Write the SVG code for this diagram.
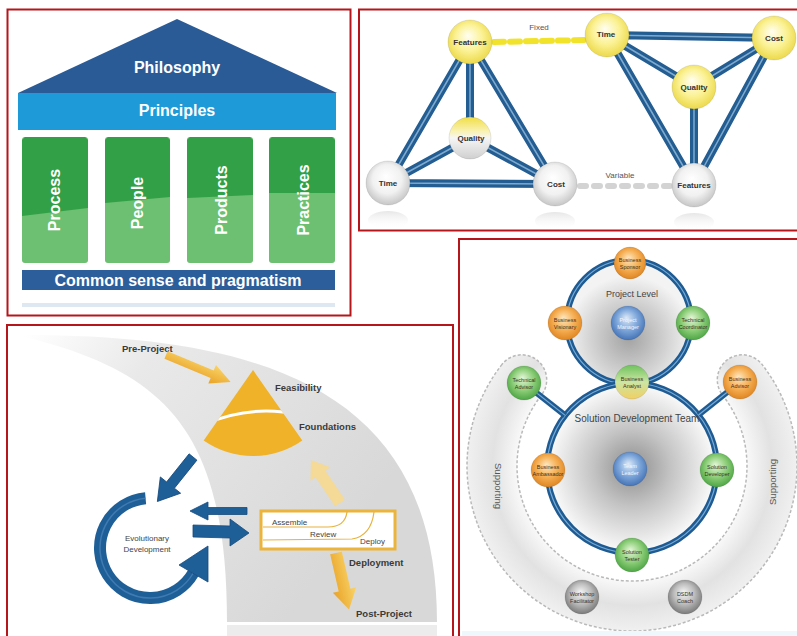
<svg xmlns="http://www.w3.org/2000/svg" width="797" height="636" viewBox="0 0 797 636">
<defs>
<style>
text{font-family:"Liberation Sans",Arial,Helvetica,sans-serif}
.frame{fill:#fff;stroke:#b5161c;stroke-width:2}
.big{fill:#fff;font-size:16px;font-weight:bold;text-anchor:middle}
.nl{font-size:8px;font-weight:bold;fill:#333;text-anchor:middle}
.cap{font-size:8px;fill:#555;text-anchor:middle}
.lk{fill:none;stroke:#235d91;stroke-width:8}
.lk2{fill:none;stroke:#7eaad0;stroke-width:1.5}
.lab{font-size:9.5px;font-weight:bold;fill:#3a3a3a}
.sm{font-size:8px;fill:#444}
.ring{fill:none;stroke:#1f5b93;stroke-width:6}
.ring2{fill:none;stroke:#78acd6;stroke-width:1.2}
.pl{font-size:5.5px;fill:#3b2f1e;text-anchor:middle}
.plw{font-size:5.5px;fill:#f2f6ff;text-anchor:middle}
.dash{fill:none;stroke:#b9b9b9;stroke-width:1.5;stroke-dasharray:3 2}
.ball{stroke:#000;stroke-opacity:0.12;stroke-width:0.8}
.barrow{fill:#1f5f98;stroke:#154a7c;stroke-width:0.8}
.garrow{fill:url(#gGold)}
</style>
<radialGradient id="gY" cx="0.5" cy="0.45" r="0.55" fx="0.45" fy="0.35">
<stop offset="0" stop-color="#fffef2"/><stop offset="0.55" stop-color="#fbf296"/><stop offset="1" stop-color="#ecd94a"/>
</radialGradient>
<radialGradient id="gW" cx="0.5" cy="0.45" r="0.55" fx="0.45" fy="0.35">
<stop offset="0" stop-color="#ffffff"/><stop offset="0.6" stop-color="#f1f1f1"/><stop offset="1" stop-color="#c6c6c6"/>
</radialGradient>
<linearGradient id="gQ" x1="0" y1="0" x2="0" y2="1">
<stop offset="0" stop-color="#f0de45"/><stop offset="0.35" stop-color="#f9f3b6"/><stop offset="0.5" stop-color="#f6f6f6"/><stop offset="1" stop-color="#cfcfcf"/>
</linearGradient>
<linearGradient id="gRef" x1="0" y1="0" x2="0" y2="1">
<stop offset="0" stop-color="#d4d4d4" stop-opacity="0.7"/><stop offset="1" stop-color="#ffffff" stop-opacity="0"/>
</linearGradient>
<radialGradient id="gO" cx="0.5" cy="0.45" r="0.55" fx="0.45" fy="0.35">
<stop offset="0" stop-color="#fde7c0"/><stop offset="0.55" stop-color="#f6b055"/><stop offset="1" stop-color="#e08622"/>
</radialGradient>
<radialGradient id="gG" cx="0.5" cy="0.45" r="0.55" fx="0.45" fy="0.35">
<stop offset="0" stop-color="#e4f6d8"/><stop offset="0.55" stop-color="#90d07c"/><stop offset="1" stop-color="#4ea645"/>
</radialGradient>
<radialGradient id="gB" cx="0.5" cy="0.45" r="0.55" fx="0.45" fy="0.35">
<stop offset="0" stop-color="#dde9f7"/><stop offset="0.55" stop-color="#7fa8db"/><stop offset="1" stop-color="#4674b6"/>
</radialGradient>
<radialGradient id="gD" cx="0.5" cy="0.45" r="0.55" fx="0.45" fy="0.35">
<stop offset="0" stop-color="#f4f4f4"/><stop offset="0.55" stop-color="#bdbdbd"/><stop offset="1" stop-color="#7a7a7a"/>
</radialGradient>
<linearGradient id="gA" x1="0" y1="0" x2="0" y2="1">
<stop offset="0" stop-color="#6fc25e"/><stop offset="0.5" stop-color="#cbe6a4"/><stop offset="1" stop-color="#f2cf62"/>
</linearGradient>
<radialGradient id="gBand" gradientUnits="userSpaceOnUse" cx="632" cy="466" r="170">
<stop offset="0.66" stop-color="#fbfbfb"/><stop offset="0.82" stop-color="#e2e2e2"/><stop offset="1" stop-color="#f3f3f3"/>
</radialGradient>
<radialGradient id="gSDT" gradientUnits="userSpaceOnUse" cx="632" cy="468" r="85">
<stop offset="0" stop-color="#8c8c8c"/><stop offset="0.45" stop-color="#c3c3c3"/><stop offset="1" stop-color="#fbfbfb"/>
</radialGradient>
<radialGradient id="gPL" gradientUnits="userSpaceOnUse" cx="629" cy="338" r="62">
<stop offset="0" stop-color="#a3a3a3"/><stop offset="0.6" stop-color="#d2d2d2"/><stop offset="1" stop-color="#f3f3f3"/>
</radialGradient>
<linearGradient id="gArc" gradientUnits="userSpaceOnUse" x1="25" y1="335" x2="330" y2="560">
<stop offset="0" stop-color="#ffffff"/><stop offset="0.3" stop-color="#e9e9e9"/><stop offset="1" stop-color="#d8d8d8"/>
</linearGradient>
<linearGradient id="gGold" x1="0" y1="0" x2="0" y2="1">
<stop offset="0" stop-color="#f9d468"/><stop offset="1" stop-color="#e9a226"/>
</linearGradient>
<clipPath id="sectorClip"><path d="M253,370 L203.7,440.4 A86,86 0 0 0 302.3,440.4 Z"/></clipPath>
<path id="triL" d="M470,42 L388,183 M470,42 L470,138 M470,42 L555,184 M470,138 L388,183 M470,138 L555,184 M388,183 L555,184"/>
<path id="triR" d="M607,35 L774,38 M607,35 L694,87 M607,35 L694,185 M774,38 L694,87 M774,38 L694,185 M694,87 L694,185"/>
</defs>

<!-- ============ Panel 1: house ============ -->
<rect class="frame" x="7.5" y="9.5" width="343" height="306"/>
<g id="roof">
<polygon points="177,19 18,93 337,93" fill="#2a5b96"/>
<text class="big" x="177" y="73">Philosophy</text>
</g>
<g id="principles">
<rect x="18" y="93" width="318" height="37" fill="#1d9ad7"/>
<text class="big" x="177" y="116">Principles</text>
</g>
<g id="pillar-process">
<rect x="22" y="137" width="66" height="126" rx="3" fill="#6dbf72"/>
<polygon points="22,140 25,137 85,137 88,140 88,208 22,216" fill="#32a046"/>
<text class="big" transform="translate(60,200) rotate(-90)">Process</text>
</g>
<g id="pillar-people">
<rect x="105" y="137" width="65" height="126" rx="3" fill="#6dbf72"/>
<polygon points="105,140 108,137 167,137 170,140 170,197 105,203" fill="#32a046"/>
<text class="big" transform="translate(143,203) rotate(-90)">People</text>
</g>
<g id="pillar-products">
<rect x="187" y="137" width="66" height="126" rx="3" fill="#6dbf72"/>
<polygon points="187,140 190,137 250,137 253,140 253,195 187,198" fill="#32a046"/>
<text class="big" transform="translate(227,200) rotate(-90)">Products</text>
</g>
<g id="pillar-practices">
<rect x="269" y="137" width="66" height="126" rx="3" fill="#6dbf72"/>
<polygon points="269,140 272,137 332,137 335,140 335,193 269,193" fill="#32a046"/>
<text class="big" transform="translate(309,200) rotate(-90)">Practices</text>
</g>
<g id="foundation">
<rect x="22" y="270" width="313" height="20" fill="#2b5e9b"/>
<text class="big" x="178" y="286">Common sense and pragmatism</text>
<rect x="22" y="303" width="313" height="4" fill="#dde8f3"/>
</g>

<!-- ============ Panel 2: triangles ============ -->
<rect class="frame" x="359" y="9.5" width="445" height="221"/>
<g id="connectors-triangles">
<use href="#triL" class="lk"/><use href="#triL" class="lk2"/>
<use href="#triR" class="lk"/><use href="#triR" class="lk2"/>
<line x1="494" y1="42" x2="586" y2="40" stroke="#f1e22c" stroke-width="6" stroke-dasharray="10 6" stroke-linecap="round"/>
<line x1="580" y1="186" x2="670" y2="186" stroke="#d3d3d3" stroke-width="6" stroke-dasharray="6 8" stroke-linecap="round"/>
<text class="cap" x="539" y="30">Fixed</text>
<text class="cap" x="620" y="178">Variable</text>
</g>
<g id="reflections" opacity="0.8">
<ellipse cx="388" cy="220" rx="20" ry="9" fill="url(#gRef)"/>
<ellipse cx="555" cy="221" rx="20" ry="9" fill="url(#gRef)"/>
<ellipse cx="694" cy="222" rx="20" ry="9" fill="url(#gRef)"/>
</g>
<g id="n-features-fixed"><circle class="ball" cx="470" cy="42" r="22" fill="url(#gY)"/><text class="nl" x="470" y="45">Features</text></g>
<g id="n-quality-left"><circle class="ball" cx="470" cy="138" r="21" fill="url(#gQ)"/><text class="nl" x="471" y="141">Quality</text></g>
<g id="n-time-left"><circle class="ball" cx="388" cy="183" r="22" fill="url(#gW)"/><text class="nl" x="388" y="186">Time</text></g>
<g id="n-cost-left"><circle class="ball" cx="555" cy="184" r="22" fill="url(#gW)"/><text class="nl" x="556" y="187">Cost</text></g>
<g id="n-time-fixed"><circle class="ball" cx="607" cy="35" r="22" fill="url(#gY)"/><text class="nl" x="606" y="37">Time</text></g>
<g id="n-cost-fixed"><circle class="ball" cx="774" cy="38" r="22" fill="url(#gY)"/><text class="nl" x="774" y="41">Cost</text></g>
<g id="n-quality-right"><circle class="ball" cx="694" cy="87" r="22" fill="url(#gY)"/><text class="nl" x="694" y="90">Quality</text></g>
<g id="n-features-var"><circle class="ball" cx="694" cy="185" r="22" fill="url(#gW)"/><text class="nl" x="694" y="188">Features</text></g>

<!-- ============ Panel 3: lifecycle ============ -->
<rect class="frame" x="7" y="325" width="446" height="320"/>
<path id="lifecycle-band" d="M25,335 C280,335 437,400 437,622 L227,622 C227,430 165,372 25,337 Z" fill="url(#gArc)"/>
<rect x="227" y="625" width="210" height="12" fill="#ececec"/>
<g id="n-preproject">
<text class="lab" x="122" y="352">Pre-Project</text>
</g>
<g id="n-feasibility">
<path d="M253,370 L203.7,440.4 A86,86 0 0 0 302.3,440.4 Z" fill="#efb229"/>
<path clip-path="url(#sectorClip)" d="M205,424 Q252,404 300,415" fill="none" stroke="#fff" stroke-width="3"/>
<text class="lab" x="275" y="391">Feasibility</text>
<text class="lab" x="299" y="430">Foundations</text>
</g>
<g id="n-evolutionary">
<path d="M145.6,498.2 A50,50 0 1 0 193.3,573" fill="none" stroke="#1f5f98" stroke-width="12"/>
<path d="M145.6,498.2 A50,50 0 1 0 193.3,573" fill="none" stroke="#4d86be" stroke-width="1.5" opacity="0.7"/>
<polygon class="barrow" points="208,582 179,565 208,546"/>
<text class="sm" x="147" y="541" text-anchor="middle">Evolutionary</text>
<text class="sm" x="147" y="552" text-anchor="middle">Development</text>
</g>
<g id="n-deployment">
<rect x="261" y="511" width="134" height="38" fill="#fff" stroke="#ebb43a" stroke-width="3"/>
<path d="M263,527 L328,527 Q345,527 347,512" fill="none" stroke="#e7b23e" stroke-width="1.2"/>
<path d="M263,540 L352,539 Q371,536 374,512" fill="none" stroke="#e7b23e" stroke-width="1.2"/>
<text class="sm" x="272" y="525">Assemble</text>
<text class="sm" x="310" y="537">Review</text>
<text class="sm" x="360" y="544">Deploy</text>
<text class="lab" x="349" y="566">Deployment</text>
</g>
<g id="n-postproject">
<text class="lab" x="356" y="617">Post-Project</text>
</g>
<g id="connectors-lifecycle">
<path class="garrow" transform="translate(166,355) rotate(22.6)" d="M0,-4 L50,-4 L50,-10 L70,0 L50,10 L50,4 L0,4 Z"/>
<path transform="translate(340,503) rotate(-124)" d="M0,-6 L35,-6 L35,-12 L52,0 L35,12 L35,6 L0,6 Z" fill="#f6d98e" opacity="0.9"/>
<path class="garrow" transform="translate(336,553) rotate(77)" d="M0,-6 L38,-6 L38,-12 L58,0 L38,12 L38,6 L0,6 Z"/>
<path class="barrow" transform="translate(193,457) rotate(128.7)" d="M0,-5 L36,-5 L36,-13 L57,0 L36,13 L36,5 L0,5 Z"/>
<path class="barrow" d="M247,507.5 L208,507.5 L208,502 L190,511 L208,520 L208,514.5 L247,514.5 Z"/>
<path class="barrow" d="M193,525 L230,526 L230,519 L249,533 L230,546 L230,538 L193,537 Z"/>
</g>

<!-- ============ Panel 4: roles ============ -->
<rect class="frame" x="459" y="239" width="345" height="400"/>
<path id="supporting-band" d="M502.0,364.4 A165,165 0 1 0 762.0,364.4 A25,25 0 0 0 722.6,395.2 A115,115 0 1 1 541.4,395.2 A25,25 0 0 0 502.0,364.4 Z" fill="url(#gBand)"/>
<path d="M502.0,364.4 A165,165 0 1 0 762.0,364.4 A25,25 0 0 0 722.6,395.2 A115,115 0 1 1 541.4,395.2 A25,25 0 0 0 502.0,364.4 Z" class="dash"/>
<rect x="462" y="631" width="340" height="6" fill="#eef7fb"/>
<circle cx="629" cy="322" r="62" fill="url(#gPL)"/>
<circle cx="632" cy="468" r="85" fill="url(#gSDT)"/>
<g id="connectors-roles">
<circle class="ring" cx="629" cy="322" r="62"/>
<circle class="ring2" cx="629" cy="322" r="62"/>
<circle class="ring" cx="632" cy="468" r="85"/>
<circle class="ring2" cx="632" cy="468" r="85"/>
<line x1="524" y1="383" x2="565.2" y2="415.4" stroke="#1f5b93" stroke-width="6"/>
<line x1="524" y1="383" x2="565.2" y2="415.4" stroke="#78acd6" stroke-width="1.2"/>
<line x1="740" y1="382" x2="698.5" y2="415" stroke="#1f5b93" stroke-width="6"/>
<line x1="740" y1="382" x2="698.5" y2="415" stroke="#78acd6" stroke-width="1.2"/>
</g>
<text x="632" y="297" font-size="9" fill="#444" text-anchor="middle">Project Level</text>
<text x="637" y="422" font-size="10" fill="#444" text-anchor="middle">Solution Development Team</text>
<text transform="translate(495,486) rotate(90)" font-size="9.5" fill="#555" text-anchor="middle">Supporting</text>
<text transform="translate(776,482) rotate(-90)" font-size="9.5" fill="#555" text-anchor="middle">Supporting</text>

<g id="r-sponsor"><circle class="ball" cx="630" cy="263" r="16" fill="url(#gO)"/><text class="pl" x="630" y="262">Business</text><text class="pl" x="630" y="268.5">Sponsor</text></g>
<g id="r-visionary"><circle class="ball" cx="565" cy="323" r="17" fill="url(#gO)"/><text class="pl" x="565" y="322">Business</text><text class="pl" x="565" y="328.5">Visionary</text></g>
<g id="r-pm"><circle class="ball" cx="628" cy="323" r="17" fill="url(#gB)"/><text class="plw" x="628" y="322">Project</text><text class="plw" x="628" y="328.5">Manager</text></g>
<g id="r-techcoord"><circle class="ball" cx="693" cy="323" r="17" fill="url(#gG)"/><text class="pl" x="693" y="322">Technical</text><text class="pl" x="693" y="328.5">Coordinator</text></g>
<g id="r-analyst"><circle class="ball" cx="632" cy="382" r="17" fill="url(#gA)"/><text class="pl" x="632" y="381">Business</text><text class="pl" x="632" y="387.5">Analyst</text></g>
<g id="r-techadvisor"><circle class="ball" cx="524" cy="383" r="17" fill="url(#gG)"/><text class="pl" x="524" y="382">Technical</text><text class="pl" x="524" y="388.5">Advisor</text></g>
<g id="r-busadvisor"><circle class="ball" cx="740" cy="382" r="17" fill="url(#gO)"/><text class="pl" x="740" y="381">Business</text><text class="pl" x="740" y="387.5">Advisor</text></g>
<g id="r-ambassador"><circle class="ball" cx="548" cy="470" r="17" fill="url(#gO)"/><text class="pl" x="548" y="469">Business</text><text class="pl" x="548" y="475.5">Ambassador</text></g>
<g id="r-teamleader"><circle class="ball" cx="630" cy="469" r="17" fill="url(#gB)"/><text class="plw" x="630" y="468">Team</text><text class="plw" x="630" y="474.5">Leader</text></g>
<g id="r-soldev"><circle class="ball" cx="717" cy="470" r="17" fill="url(#gG)"/><text class="pl" x="717" y="469">Solution</text><text class="pl" x="717" y="475.5">Developer</text></g>
<g id="r-tester"><circle class="ball" cx="632" cy="555" r="17" fill="url(#gG)"/><text class="pl" x="632" y="554">Solution</text><text class="pl" x="632" y="560.5">Tester</text></g>
<g id="r-workshop"><circle class="ball" cx="582" cy="597" r="17" fill="url(#gD)"/><text class="pl" x="582" y="596">Workshop</text><text class="pl" x="582" y="602.5">Facilitator</text></g>
<g id="r-dsdmcoach"><circle class="ball" cx="685" cy="597" r="17" fill="url(#gD)"/><text class="pl" x="685" y="596">DSDM</text><text class="pl" x="685" y="602.5">Coach</text></g>
</svg>
